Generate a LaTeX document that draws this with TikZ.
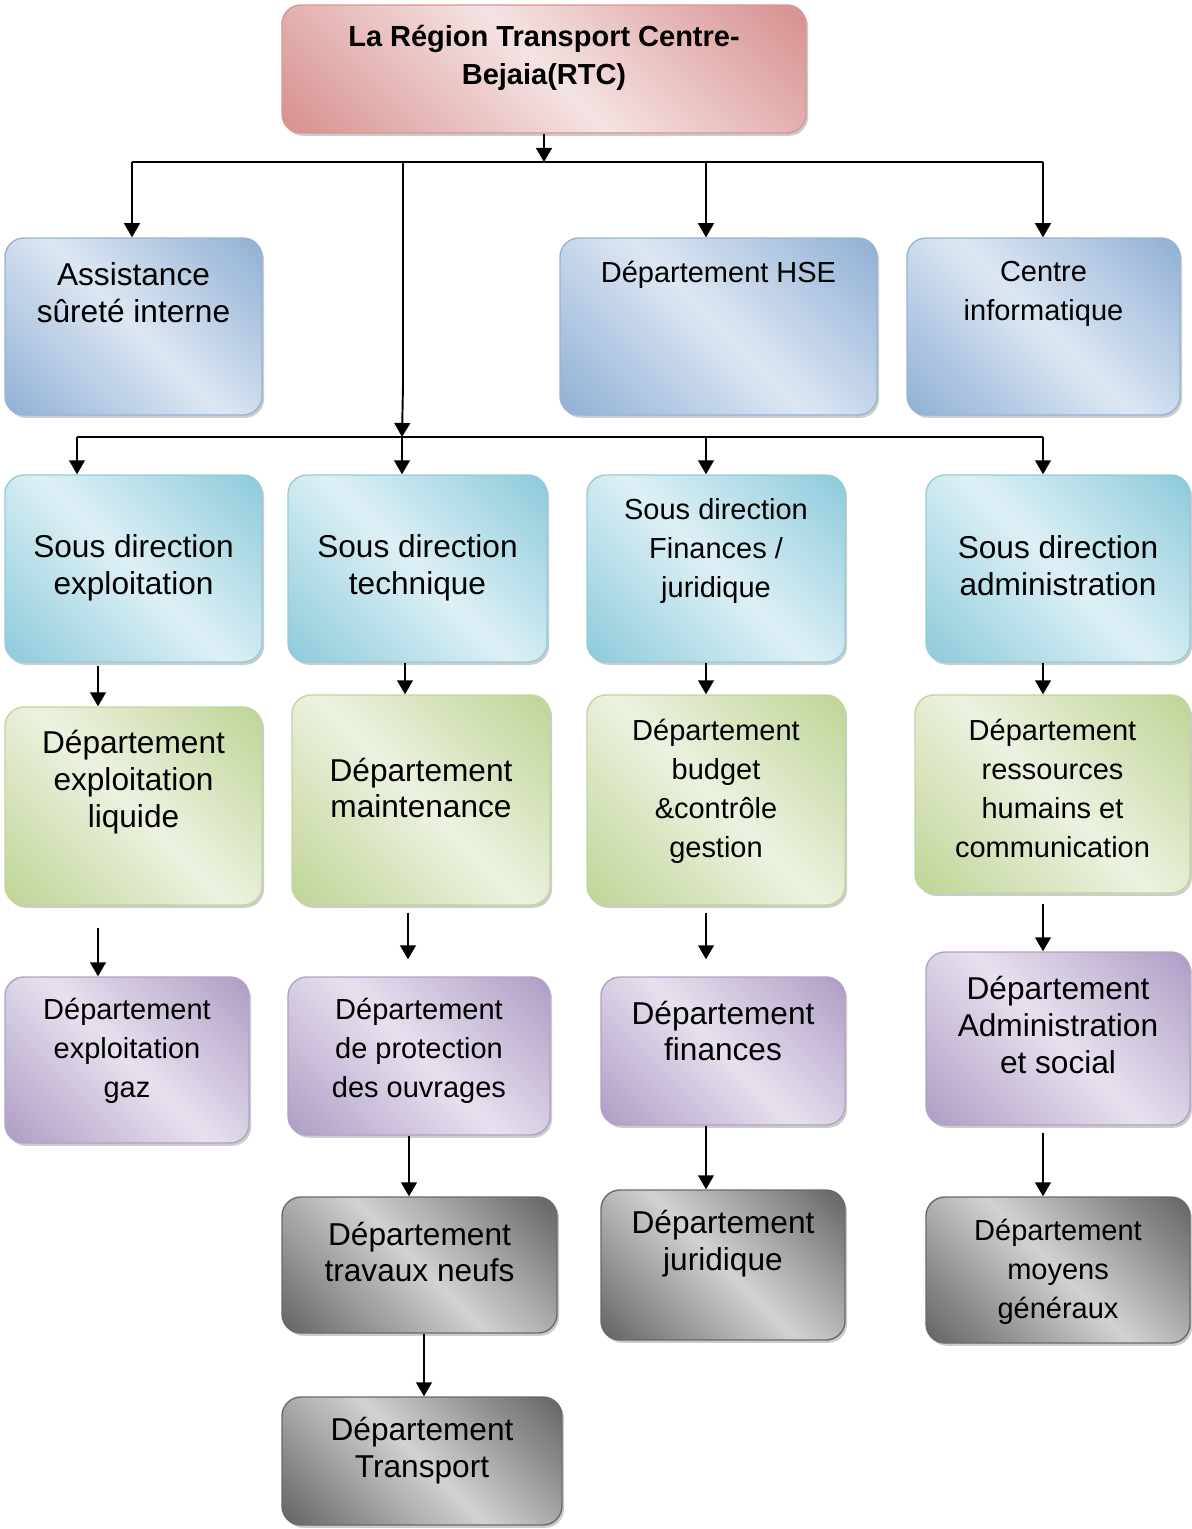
\documentclass[tikz,border=0pt]{standalone}
\usepackage{fontspec}
\setmainfont{Liberation Sans}
\usetikzlibrary{arrows.meta,fit,shadows}

\definecolor{rtcdark}{HTML}{D99594}
\definecolor{rtclight}{HTML}{F5E3E3}
\definecolor{bluedark}{HTML}{95B3D7}
\definecolor{bluelight}{HTML}{DDE7F2}
\definecolor{aquadark}{HTML}{92CDDC}
\definecolor{aqualight}{HTML}{DDF0F5}
\definecolor{greendark}{HTML}{C2D69B}
\definecolor{greenlight}{HTML}{ECF2E0}
\definecolor{purpledark}{HTML}{B2A1C7}
\definecolor{purplelight}{HTML}{E7E1EE}
\definecolor{greydark}{HTML}{6A6A6A}
\definecolor{greylight}{HTML}{D2D2D2}
\colorlet{boxdk}{bluedark}
\colorlet{boxlt}{bluelight}
\pgfdeclarehorizontalshading[boxdk,boxlt]{wordfill}{100bp}{color(0bp)=(boxdk); color(17bp)=(boxdk);
  color(50bp)=(boxlt); color(83bp)=(boxdk); color(100bp)=(boxdk)}

\begin{document}
\begin{tikzpicture}[x=0.02cm,y=-0.02cm,
    boxcolors/.code 2 args={\colorlet{boxdk}{#1}\colorlet{boxlt}{#2}},
    box/.style={rounded corners=0.38cm, inner sep=0pt, line width=0.8pt,
      shading=wordfill, shading angle=45,
      drop shadow={shadow xshift=1.2pt,shadow yshift=-1.6pt,opacity=.4}},
    rtcbox/.style={box, draw=rtcdark, boxcolors={rtcdark}{rtclight}},
    bluebox/.style={box, draw=bluedark, boxcolors={bluedark}{bluelight}},
    aquabox/.style={box, draw=aquadark, boxcolors={aquadark}{aqualight}},
    greenbox/.style={box, draw=greendark, boxcolors={greendark}{greenlight}},
    purplebox/.style={box, draw=purpledark, boxcolors={purpledark}{purplelight}},
    greybox/.style={box, draw=greydark, boxcolors={greydark}{greylight}},
    big/.style={align=center, inner sep=0pt, font=\fontsize{18}{21}\selectfont},
    small/.style={align=center, inner sep=0pt, font=\fontsize{16.5}{22.2}\selectfont},
    bold/.style={align=center, inner sep=0pt, font=\bfseries\fontsize{16.5}{21.6}\selectfont},
    line/.style={line width=1.1pt},
    arr/.style={line, -{Triangle[length=8pt,width=9pt]}}]
  \useasboundingbox (0,0) rectangle (1192,1529);

  % boxes
  \node[rtcbox, fit={(282,5) (806,133)}] (rtc) {};
  \node[bluebox, fit={(5,238) (262,415)}] (ass) {};
  \node[bluebox, fit={(560,238) (877,415)}] (hse) {};
  \node[bluebox, fit={(907,238) (1180,415)}] (info) {};
  \node[aquabox, fit={(5,475) (262,662)}] (sde) {};
  \node[aquabox, fit={(288,475) (547,662)}] (sdt) {};
  \node[aquabox, fit={(587,475) (845,662)}] (sdf) {};
  \node[aquabox, fit={(926,475) (1190,662)}] (sda) {};
  \node[greenbox, fit={(5,707) (262,905)}] (del) {};
  \node[greenbox, fit={(292,695) (550,905)}] (dm) {};
  \node[greenbox, fit={(587,695) (845,905)}] (dbc) {};
  \node[greenbox, fit={(915,695) (1190,893)}] (drh) {};
  \node[purplebox, fit={(5,977) (249,1143)}] (deg) {};
  \node[purplebox, fit={(288,977) (550,1135)}] (dpo) {};
  \node[purplebox, fit={(601,977) (845,1125)}] (dfi) {};
  \node[purplebox, fit={(926,952) (1190,1125)}] (das) {};
  \node[greybox, fit={(282,1197) (557,1333)}] (dtn) {};
  \node[greybox, fit={(601,1190) (845,1340)}] (dju) {};
  \node[greybox, fit={(926,1197) (1190,1343)}] (dmg) {};
  \node[greybox, fit={(282,1397) (562,1525)}] (dtr) {};

  % texts
  \node[bold] (rtc-t) at (rtc.center |- 0,58) {La Région Transport Centre-\\Bejaia(RTC)};
  \node[big] (ass-t) at (ass.center |- 0,293) {Assistance\\sûreté interne};
  \node[small] (hse-t) at (hse.center |- 0,275) {Département HSE};
  \node[small] (info-t) at (info.center |- 0,294) {Centre\\informatique};
  \node[big] (sde-t) at (sde.center |- 0,568) {Sous direction\\exploitation};
  \node[big] (sdt-t) at (sdt.center |- 0,568) {Sous direction\\technique};
  \node[small] (sdf-t) at (sdf.center |- 0,551) {Sous direction\\Finances /\\juridique};
  \node[big] (sda-t) at (sda.center |- 0,566) {Sous direction\\administration};
  \node[big] (del-t) at (del.center |- 0,782) {Département\\exploitation\\liquide};
  \node[big] (dm-t) at (dm.center |- 0,788) {Département\\maintenance};
  \node[small] (dbc-t) at (dbc.center |- 0,791) {Département\\budget\\\&contrôle\\gestion};
  \node[small] (drh-t) at (drh.center |- 0,788) {Département\\ressources\\humains et\\communication};
  \node[small] (deg-t) at (deg.center |- 0,1051) {Département\\exploitation\\gaz};
  \node[small] (dpo-t) at (dpo.center |- 0,1051) {Département\\de protection\\des ouvrages};
  \node[big] (dfi-t) at (dfi.center |- 0,1031) {Département\\finances};
  \node[big] (das-t) at (das.center |- 0,1025) {Département\\Administration\\et social};
  \node[big] (dtn-t) at (dtn.center |- 0,1252) {Département\\travaux neufs};
  \node[big] (dju-t) at (dju.center |- 0,1244) {Département\\juridique};
  \node[small] (dmg-t) at (dmg.center |- 0,1272) {Département\\moyens\\généraux};
  \node[big] (dtr-t) at (dtr.center |- 0,1451) {Département\\Transport};

  % first bus
  \coordinate (b1w) at (132,162);
  \coordinate (b1s) at (403,162);
  \coordinate (b1h) at (706,162);
  \coordinate (b1e) at (1043,162);
  \draw[arr] (rtc.south) -- (rtc.south |- b1w);
  \draw[line] (b1w) -- (b1e);
  \draw[arr] (b1w) -- (b1w |- ass.north);
  \draw[arr] (b1h) -- (b1h |- hse.north);
  \draw[arr] (b1e) -- (b1e |- info.north);

  % second bus
  \coordinate (b2w) at (77,437);
  \coordinate (b2s) at (402,437);
  \coordinate (b2f) at (706,437);
  \coordinate (b2e) at (1043,437);
  \draw[arr] (b1s) -- (403,385) -- (b2s);
  \draw[line] (b2w) -- (b2e);
  \draw[arr] (b2w) -- (b2w |- sde.north);
  \draw[arr] (b2s) -- (b2s |- sdt.north);
  \draw[arr] (b2f) -- (b2f |- sdf.north);
  \draw[arr] (b2e) -- (b2e |- sda.north);

  % columns
  \draw[arr, shorten <=0.06cm] (98,0 |- sde.south) -- (98,0 |- del.north);
  \draw[arr] (405,0 |- sdt.south) -- (405,0 |- dm.north);
  \draw[arr] (706,0 |- sdf.south) -- (706,0 |- dbc.north);
  \draw[arr] (1043,0 |- sda.south) -- (1043,0 |- drh.north);

  \draw[arr, shorten <=0.44cm] (98,0 |- del.south) -- (98,0 |- deg.north);
  \draw[arr, shorten <=0.14cm, shorten >=0.34cm] (408,0 |- dm.south) -- (408,0 |- dpo.north);
  \draw[arr, shorten <=0.14cm, shorten >=0.34cm] (706,0 |- dbc.south) -- (706,0 |- dfi.north);
  \draw[arr, shorten <=0.2cm] (1043,0 |- drh.south) -- (1043,0 |- das.north);

  \draw[arr] (409,0 |- dpo.south) -- (409,0 |- dtn.north);
  \draw[arr] (706,0 |- dfi.south) -- (706,0 |- dju.north);
  \draw[arr, shorten <=0.14cm] (1043,0 |- das.south) -- (1043,0 |- dmg.north);
  \draw[arr] (424,0 |- dtn.south) -- (424,0 |- dtr.north);
\end{tikzpicture}
\end{document}
